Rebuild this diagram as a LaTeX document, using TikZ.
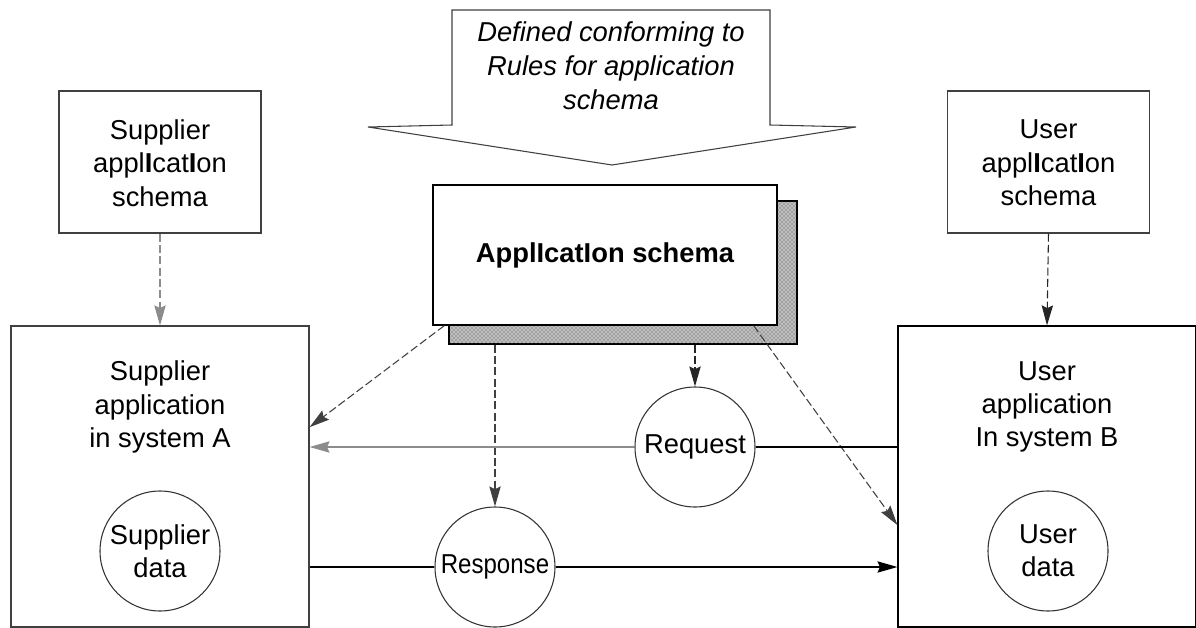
\documentclass[tikz,border=0pt]{standalone}
\usepackage{fontspec}
\setmainfont{Liberation Sans}
\usepackage{graphicx}
\usetikzlibrary{arrows.meta,patterns}
\begin{document}
\begin{tikzpicture}[x=0.75pt,y=-0.75pt,
  box/.style={draw=black!75, line width=0.9pt, fill=white, inner sep=0pt},
  txt/.style={font=\fontsize{20.5}{25}\selectfont, align=center},
  ell/.style={circle, draw=black!80, line width=0.8pt, fill=white, minimum size=90pt, inner sep=0pt, txt},
  tip/.style={-{Stealth[length=15pt,width=8.5pt,inset=2pt]}},
  dep/.style={tip, dash pattern=on 6pt off 2.5pt, line width=0.8pt},
  flow/.style={line width=0.9pt},
  shade/.style={draw=black, line width=0.8pt, fill=black!25, inner sep=0pt, minimum width=261pt, minimum height=107.25pt},
]
\useasboundingbox (0,0) rectangle (1196,628);

% block arrow
\draw[line width=0.8pt, draw=black!75, fill=white]
  (452,10) -- (770,10) -- (770,125) -- (856,127) -- (612,165) -- (368,127) -- (452,125) -- cycle;
\node[txt, font=\fontsize{20.5}{25.5}\selectfont\itshape] (rules) at (611,66)
  {Defined conforming to\\Rules for application\\schema};

% schema boxes
\node[box, minimum width=151.5pt, minimum height=106.5pt] (supschema) at (160,162) {};
\node[txt] (supschematxt) at (160,163) {Supplier\\appl\textbf{I}cat\textbf{I}on\\schema};
\node[box, minimum width=151.5pt, minimum height=106.5pt] (userschema) at (1048.5,162) {};
\node[txt] (userschematxt) at (1048.5,163) {User\\appl\textbf{I}cat\textbf{I}on\\schema};

% application schema with shadow
\node[shade] (shadow) at (623,272.5) {};
\fill[pattern=crosshatch dots, pattern color=black!75] (shadow.north west) rectangle (shadow.south east);
\draw[line width=0.8pt] (shadow.north west) rectangle (shadow.south east);
\node[box, draw=black, minimum width=258pt, minimum height=105pt] (appschema) at (605,255) {};
\node[txt, font=\fontsize{20.5}{25}\selectfont\bfseries] (appschematxt) at (605,255) {Appl\textbf{I}cat\textbf{I}on schema};

% application boxes
\node[box, minimum width=223.5pt, minimum height=225.75pt] (supapp) at (160,476.5) {};
\node[txt] (supapptxt) at (160,407) {Supplier\\application\\in system A};
\node[box, draw=black, minimum width=223.5pt, minimum height=225.75pt] (userapp) at (1047,476.5) {};
\node[txt] (userapptxt) at (1047,407) {User\\application\\In system B};

% circles
\node[ell] (supdata) at (160,551) {Supplier\\data};
\node[ell] (userdata) at (1048,551) {User\\data};
\node[ell] (request) at (695,447) {Request};
\node[ell] (response) at (495,567) {\scalebox{0.88}[1]{Response}};

% dependencies
\draw[dep, draw=black!45] (supschema.south) -- (supapp.north);
\draw[dep, draw=black!85] (userschema.south) -- (userapp.north);
\draw[dep, draw=black!75] ([xshift=9pt]appschema.south west) -- ([yshift=37pt]supapp.east);
\draw[dep, draw=black!75] ([xshift=-18pt]appschema.south east) -- ([yshift=-36.4pt]userapp.west);
\draw[dep, draw=black!75] (response.north |- shadow.south) -- (response.north);
\draw[dep, draw=black!85] (request.north |- shadow.south) -- (request.north);

% flows
\draw[flow] (userapp.west |- request.east) -- (request.east);
\draw[flow, tip, draw=black!45] (request.west) -- (supapp.east |- request.west);
\draw[flow] (supapp.east |- response.west) -- (response.west);
\draw[flow, tip] (response.east) -- (userapp.west |- response.east);
\end{tikzpicture}
\end{document}
